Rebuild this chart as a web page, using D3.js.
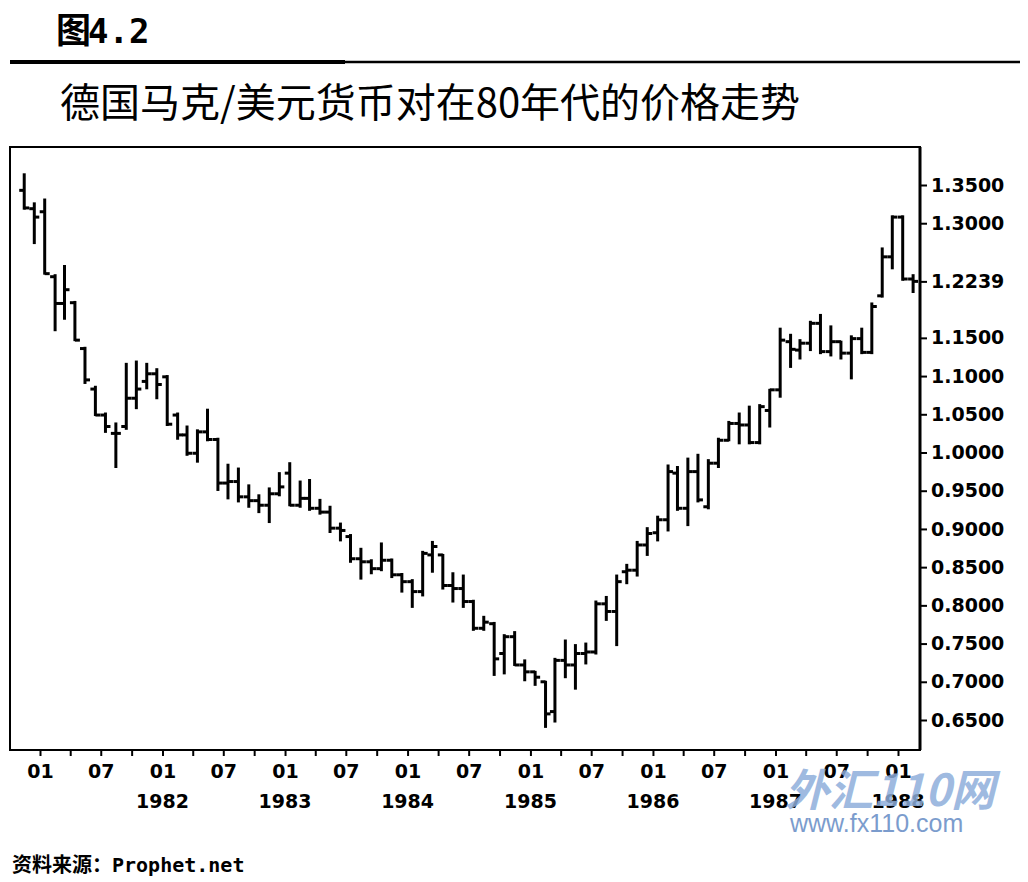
<!DOCTYPE html>
<html>
<head>
<meta charset="utf-8">
<title>德国马克/美元 80年代</title>
<script src="https://d3js.org/d3.v7.min.js"></script>
<style>
  body { margin: 0; background: #fff; }
  svg { display: block; }
  .bar line { stroke: #000; stroke-width: 3; }
  .axis text { font-family: "DejaVu Sans", sans-serif; font-weight: bold; fill: #000; }
</style>
</head>
<body>
<svg width="1028" height="882"></svg>
<script>
// monthly bars, Nov 1980 .. Feb 1988
var months = d3.timeMonth.range(new Date(1980, 10, 1), new Date(1988, 2, 1));

var open = [1.343, 1.319, 1.315, 1.230, 1.195, 1.196, 1.136, 1.083, 1.049, 1.025, 1.034, 1.071,
  1.093, 1.103, 1.099, 1.049, 1.023, 0.999, 1.027, 1.017, 0.960, 0.962, 0.942, 0.937,
  0.931, 0.946, 0.973, 0.931, 0.940, 0.927, 0.922, 0.901, 0.890, 0.861, 0.857, 0.848,
  0.859, 0.840, 0.831, 0.818, 0.866, 0.866, 0.826, 0.822, 0.805, 0.770, 0.776, 0.737,
  0.759, 0.722, 0.713, 0.700, 0.661, 0.728, 0.722, 0.737, 0.739, 0.802, 0.792, 0.844,
  0.846, 0.879, 0.895, 0.912, 0.973, 0.927, 0.975, 0.929, 0.986, 1.016, 1.038, 1.036,
  1.013, 1.055, 1.082, 1.145, 1.134, 1.143, 1.169, 1.132, 1.145, 1.130, 1.149, 1.131,
  1.205, 1.256, 1.308, 1.227];
var high = [1.364, 1.326, 1.331, 1.232, 1.244, 1.197, 1.137, 1.086, 1.051, 1.038, 1.116, 1.119,
  1.116, 1.109, 1.100, 1.051, 1.034, 1.029, 1.056, 1.018, 0.984, 0.979, 0.957, 0.944,
  0.953, 0.973, 0.986, 0.962, 0.964, 0.938, 0.929, 0.907, 0.892, 0.874, 0.859, 0.881,
  0.860, 0.841, 0.833, 0.870, 0.883, 0.866, 0.842, 0.839, 0.806, 0.785, 0.777, 0.761,
  0.765, 0.728, 0.713, 0.700, 0.730, 0.754, 0.748, 0.750, 0.805, 0.811, 0.839, 0.853,
  0.883, 0.901, 0.916, 0.983, 0.981, 0.992, 0.997, 0.990, 1.018, 1.040, 1.051, 1.060,
  1.062, 1.082, 1.162, 1.154, 1.147, 1.171, 1.180, 1.165, 1.145, 1.152, 1.162, 1.195,
  1.267, 1.309, 1.309, 1.232];
var low = [1.319, 1.274, 1.234, 1.160, 1.175, 1.147, 1.091, 1.049, 1.027, 0.981, 1.031, 1.058,
  1.084, 1.071, 1.036, 1.018, 0.997, 0.988, 1.016, 0.951, 0.940, 0.936, 0.929, 0.922,
  0.909, 0.944, 0.931, 0.929, 0.925, 0.920, 0.896, 0.885, 0.857, 0.835, 0.842, 0.846,
  0.837, 0.818, 0.798, 0.813, 0.844, 0.822, 0.805, 0.798, 0.768, 0.768, 0.709, 0.711,
  0.722, 0.702, 0.696, 0.641, 0.648, 0.706, 0.691, 0.724, 0.737, 0.781, 0.748, 0.829,
  0.839, 0.866, 0.885, 0.898, 0.925, 0.905, 0.936, 0.927, 0.981, 1.016, 1.012, 1.012,
  1.012, 1.034, 1.073, 1.112, 1.123, 1.134, 1.130, 1.127, 1.123, 1.097, 1.130, 1.130,
  1.204, 1.241, 1.226, 1.210];
var close = [1.320, 1.308, 1.234, 1.195, 1.213, 1.147, 1.095, 1.049, 1.034, 1.025, 1.071, 1.083,
  1.103, 1.089, 1.037, 1.023, 0.999, 1.027, 1.017, 0.960, 0.962, 0.942, 0.937, 0.931,
  0.946, 0.955, 0.931, 0.940, 0.927, 0.922, 0.901, 0.898, 0.861, 0.857, 0.848, 0.859,
  0.840, 0.831, 0.818, 0.868, 0.877, 0.826, 0.822, 0.805, 0.770, 0.778, 0.730, 0.759,
  0.722, 0.713, 0.706, 0.658, 0.728, 0.722, 0.737, 0.739, 0.802, 0.792, 0.831, 0.846,
  0.879, 0.894, 0.912, 0.975, 0.927, 0.975, 0.938, 0.986, 1.016, 1.038, 1.036, 1.013,
  1.060, 1.082, 1.147, 1.135, 1.143, 1.169, 1.132, 1.145, 1.130, 1.149, 1.131, 1.191,
  1.256, 1.308, 1.227, 1.2239];

var yTicks = [1.35, 1.30, 1.2239, 1.15, 1.10, 1.05, 1.00, 0.95, 0.90, 0.85, 0.80, 0.75, 0.70, 0.65];
var years = [1982, 1983, 1984, 1985, 1986, 1987, 1988];

var svg = d3.select("svg");
var plotLeft = 10, plotRight = 920, plotTop = 147, plotBottom = 750;

var x = d3.scaleTime()
    .domain([new Date(1981, 0, 1), new Date(1988, 0, 1)])
    .range([40, 898]);
var y = d3.scaleLinear()
    .domain([0.65, 1.35])
    .range([720, 185]);

// headings
svg.append("text")
    .attr("x", 56).attr("y", 43)
    .style("font-size", "35px").style("font-weight", "bold")
    .style("font-family", "'Noto Sans CJK SC', sans-serif")
    .text("图")
  .append("tspan")
    .style("font-family", "'DejaVu Sans Mono', monospace")
    .style("font-size", "34px")
    .attr("dx", -3)
    .text("4.2");

svg.append("line").attr("x1", 10).attr("x2", 345).attr("y1", 62).attr("y2", 62)
    .attr("stroke", "#000").attr("stroke-width", 4);
svg.append("line").attr("x1", 345).attr("x2", 1020).attr("y1", 62).attr("y2", 62)
    .attr("stroke", "#000").attr("stroke-width", 2.5);

svg.append("text")
    .attr("x", 60).attr("y", 117)
    .style("font-size", "40px")
    .style("font-family", "'Noto Sans CJK SC', sans-serif")
    .text("德国马克/美元货币对在80年代的价格走势");

// frame
svg.append("rect")
    .attr("x", plotLeft).attr("y", plotTop)
    .attr("width", plotRight - plotLeft).attr("height", plotBottom - plotTop)
    .attr("fill", "none").attr("stroke", "#000").attr("stroke-width", 2);

// right axis
var yAxis = svg.append("g")
    .attr("class", "axis")
    .attr("transform", "translate(" + plotRight + ",0)")
    .call(d3.axisRight(y).tickValues(yTicks).tickFormat(d3.format(".4f")).tickSize(7).tickPadding(4));
yAxis.select(".domain").remove();
yAxis.selectAll(".tick line").attr("stroke", "#000").attr("stroke-width", 2);
yAxis.selectAll("text").style("font-size", "19px");
svg.append("line").attr("x1", plotRight).attr("x2", plotRight).attr("y1", plotTop).attr("y2", plotBottom)
    .attr("stroke", "#000").attr("stroke-width", 3);

// bottom axis: quarterly ticks, 01 / 07 labels, years
var quarters = d3.timeMonth.every(3).range(new Date(1981, 0, 1), new Date(1988, 1, 1));
var xAxis = svg.append("g")
    .attr("class", "axis")
    .attr("transform", "translate(0," + plotBottom + ")")
    .call(d3.axisBottom(x).tickValues(quarters).tickSize(6).tickPadding(9)
      .tickFormat(function(d) { var m = d.getMonth(); return m === 0 ? "01" : m === 6 ? "07" : ""; }));
xAxis.select(".domain").remove();
xAxis.selectAll(".tick line").attr("stroke", "#000").attr("stroke-width", 2);
xAxis.selectAll("text").style("font-size", "19px");

svg.append("g")
    .attr("class", "axis")
  .selectAll("text")
  .data(years)
  .enter().append("text")
    .attr("x", function(d) { return x(new Date(d, 0, 1)); })
    .attr("y", 808)
    .attr("text-anchor", "middle")
    .style("font-size", "19px")
    .text(function(d) { return d; });

// OHLC bars at mid-month
var bars = svg.append("g")
  .selectAll("g")
  .data(months)
  .enter().append("g")
    .attr("class", "bar")
    .attr("transform", function(d) { return "translate(" + x(new Date(d.getFullYear(), d.getMonth(), 15)) + ",0)"; });

bars.append("line")
    .attr("y1", function(d, i) { return y(high[i]) - 1; })
    .attr("y2", function(d, i) { return y(low[i]) + 1; });
bars.append("line")
    .attr("x1", -5).attr("x2", 0)
    .attr("y1", function(d, i) { return y(open[i]); })
    .attr("y2", function(d, i) { return y(open[i]); });
bars.append("line")
    .attr("x1", 0).attr("x2", 5)
    .attr("y1", function(d, i) { return y(close[i]); })
    .attr("y2", function(d, i) { return y(close[i]); });

// source
svg.append("text")
    .attr("x", 12).attr("y", 872)
    .style("font-size", "20px").style("font-weight", "bold")
    .style("font-family", "'Noto Sans CJK SC', sans-serif")
    .text("资料来源：")
  .append("tspan")
    .style("font-family", "'DejaVu Sans Mono', monospace")
    .style("font-size", "20px")
    .text("Prophet.net");

// watermark (overlaps the last year labels, as in the original)
svg.append("text")
    .attr("x", 785).attr("y", 806)
    .style("font-size", "44px").style("font-weight", "bold").style("font-style", "italic")
    .style("font-family", "'Noto Sans CJK SC', sans-serif")
    .attr("fill", "#8eaedb").attr("fill-opacity", 0.85)
    .text("外汇110网");
svg.append("text")
    .attr("x", 790).attr("y", 832)
    .style("font-size", "25px")
    .style("font-family", "'Liberation Sans', sans-serif")
    .attr("fill", "#7b9ccd")
    .text("www.fx110.com");
</script>
</body>
</html>
